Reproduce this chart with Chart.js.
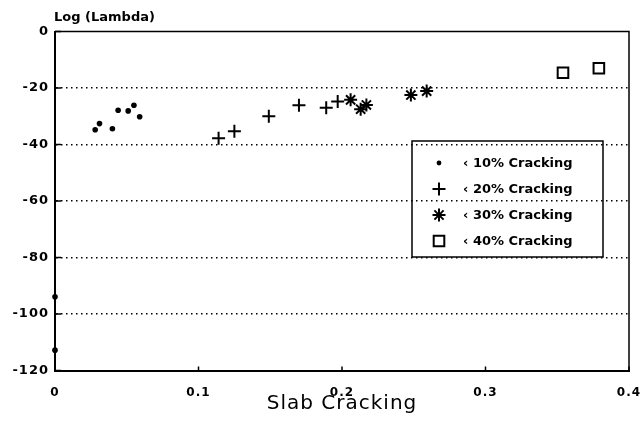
<!DOCTYPE html>
<html>
<head>
<meta charset="utf-8">
<script src="https://cdn.jsdelivr.net/npm/chart.js@4/dist/chart.umd.min.js"></script>
<style>
	html, body { margin: 0; padding: 0; background: #ffffff; }
	#chart { display: block; }
</style>
</head>
<body>
<canvas id="chart" width="642" height="424"></canvas>
<script>
"use strict";

// slab cracking (fraction) vs log(lambda), grouped by cracking class
var crack10X = [0, 0, 0.028, 0.031, 0.040, 0.044, 0.051, 0.055, 0.059];
var crack10Y = [-93.9, -112.8, -34.8, -32.6, -34.4, -27.9, -28.1, -26.1, -30.2];

var crack20X = [0.114, 0.125, 0.149, 0.170, 0.189, 0.197];
var crack20Y = [-37.8, -35.3, -30.0, -26.1, -27.0, -24.8];

var crack30X = [0.206, 0.213, 0.217, 0.248, 0.259];
var crack30Y = [-24.2, -27.5, -26.0, -22.5, -21.1];

var crack40X = [0.354, 0.379];
var crack40Y = [-14.6, -13.0];

var seriesLabels = ["‹ 10% Cracking", "‹ 20% Cracking", "‹ 30% Cracking", "‹ 40% Cracking"];

var xTickValues = [0, 0.1, 0.2, 0.3, 0.4];
var yTickValues = [0, -20, -40, -60, -80, -100, -120];

var xTitle = "Slab Cracking";
var yTitle = "Log (Lambda)";


function pairUp(xs, ys) {
	return xs.map((x, i) => ({ x: x, y: ys[i] }));
}

function makeDataset(label, xs, ys, style, radius, lineWidth, fill) {
	return {
		label: label,
		data: pairUp(xs, ys),
		showLine: false,
		pointStyle: style,
		pointRadius: radius,
		pointBorderWidth: lineWidth,
		pointBorderColor: "#000000",
		pointBackgroundColor: fill,
		clip: false
	};
}

// short inward tick marks plus the top and right frame edges
var frameTicks = {
	id: "frameTicks",
	beforeDraw(chart) {
		chart.ctx.letterSpacing = "1px";
	},
	afterDraw(chart) {
		var ctx = chart.ctx;
		var area = chart.chartArea;
		var xs = chart.scales.x;
		var ys = chart.scales.y;

		ctx.save();
		ctx.strokeStyle = "#000000";
		ctx.lineWidth = 1.5;
		ctx.beginPath();
		ctx.moveTo(area.left, area.top);
		ctx.lineTo(area.right, area.top);
		ctx.lineTo(area.right, area.bottom);
		ctx.stroke();

		ctx.beginPath();
		ys.ticks.forEach((t) => {
			var py = ys.getPixelForValue(t.value);
			ctx.moveTo(area.left, py);
			ctx.lineTo(area.left + 6, py);
		});
		xs.ticks.forEach((t) => {
			var px = xs.getPixelForValue(t.value);
			ctx.moveTo(px, area.bottom);
			ctx.lineTo(px, area.bottom - 4);
		});
		ctx.stroke();

		ctx.letterSpacing = "0px";
		ctx.fillStyle = "#000000";
		ctx.font = "bold 13px 'DejaVu Sans'";
		ctx.textAlign = "left";
		ctx.textBaseline = "alphabetic";
		ctx.fillText(yTitle, area.left - 1, 21);
		ctx.restore();
	}
};

// boxed legend sitting inside the plot
var boxLegend = {
	id: "boxLegend",
	afterDraw(chart, args, opts) {
		var ctx = chart.ctx;
		ctx.save();
		ctx.letterSpacing = "0px";
		ctx.strokeStyle = "#000000";
		ctx.lineWidth = 1.5;
		ctx.strokeRect(opts.x, opts.y, opts.w, opts.h);

		ctx.font = "bold 13px 'DejaVu Sans'";
		ctx.textAlign = "left";
		ctx.textBaseline = "middle";

		chart.data.datasets.forEach((ds, i) => {
			var rowY = opts.y + opts.firstRow + i * opts.rowGap;
			ctx.fillStyle = ds.pointBackgroundColor;
			ctx.strokeStyle = ds.pointBorderColor;
			ctx.lineWidth = ds.pointBorderWidth;
			Chart.helpers.drawPoint(ctx, {
				pointStyle: ds.pointStyle,
				radius: ds.pointStyle === "circle" ? 2.4 : ds.pointRadius,
				rotation: 0,
				borderWidth: ds.pointBorderWidth
			}, opts.x + opts.markerX, rowY);
			ctx.fillStyle = "#000000";
			ctx.fillText(ds.label, opts.x + opts.textX, rowY + 1);
		});
		ctx.restore();
	}
};

var ctx = document.getElementById("chart").getContext("2d");

var chart = new Chart(ctx, {
	type: "scatter",
	data: {
		datasets: [
			makeDataset(seriesLabels[0], crack10X, crack10Y, "circle", 2.8, 0, "#000000"),
			makeDataset(seriesLabels[1], crack20X, crack20Y, "cross", 6.5, 2, "#000000"),
			makeDataset(seriesLabels[2], crack30X, crack30Y, "star", 6.5, 2, "#000000"),
			makeDataset(seriesLabels[3], crack40X, crack40Y, "rect", 7.5, 2, "rgba(0,0,0,0)")
		]
	},
	options: {
		responsive: false,
		animation: false,
		events: [],
		layout: {
			padding: { top: 31.5, right: 13, left: 0, bottom: 0 }
		},
		plugins: {
			legend: { display: false },
			tooltip: { enabled: false },
			boxLegend: { x: 412, y: 141, w: 191, h: 116, markerX: 27, textX: 51, firstRow: 22, rowGap: 26 }
		},
		scales: {
			x: {
				type: "linear",
				min: 0,
				max: 0.4,
				afterBuildTicks: (scale) => { scale.ticks = xTickValues.map((v) => ({ value: v })); },
				afterFit: (scale) => {
					scale.height = 53.5;
					scale.paddingLeft = 0;
					scale.paddingRight = 0;
				},
				grid: { display: false, drawTicks: false },
				border: { display: true, color: "#000000", width: 2 },
				ticks: {
					color: "#000000",
					font: { family: "DejaVu Sans", size: 12, weight: "bold" },
					padding: 15,
					maxRotation: 0,
					autoSkip: false
				},
				title: {
					display: true,
					text: xTitle,
					color: "#000000",
					font: { family: "DejaVu Sans", size: 20 },
					padding: { top: 0, bottom: 8 }
				}
			},
			y: {
				type: "linear",
				min: -120,
				max: 0,
				afterBuildTicks: (scale) => { scale.ticks = yTickValues.map((v) => ({ value: v })); },
				afterFit: (scale) => {
					scale.width = 55;
					scale.paddingTop = 0;
					scale.paddingBottom = 0;
				},
				grid: {
					drawTicks: false,
					lineWidth: 1.5,
					color: (c) => (c.tick && (c.tick.value === 0 || c.tick.value === -120)) ? "rgba(0,0,0,0)" : "#000000"
				},
				border: { display: true, color: "#000000", width: 2, dash: [1.5, 3.5] },
				ticks: {
					color: "#000000",
					font: { family: "DejaVu Sans", size: 13, weight: "bold" },
					padding: 6,
					autoSkip: false
				}
			}
		}
	},
	plugins: [frameTicks, boxLegend]
});
</script>
</body>
</html>
